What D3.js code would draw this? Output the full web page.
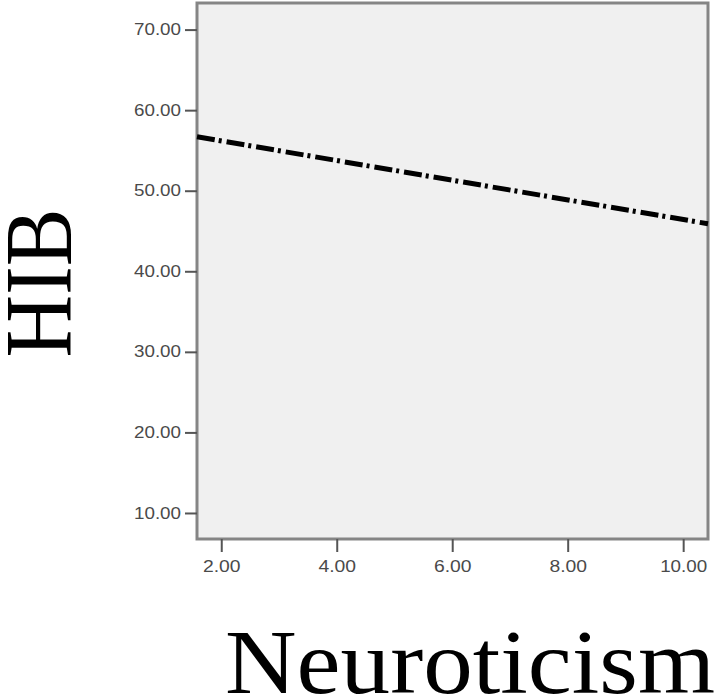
<!DOCTYPE html>
<html>
<head>
<meta charset="utf-8">
<script src="https://cdn.jsdelivr.net/npm/d3@7"></script>
<style>
  body { margin: 0; background: #fff; }
  svg { display: block; }
</style>
</head>
<body>
<svg></svg>
<script>
// values
const xTicks = [2, 4, 6, 8, 10]
const yTicks = [10, 20, 30, 40, 50, 60, 70]
const xDomain = [1.58, 10.43]
const yDomain = [6.77, 73.3]
// fitted line (Neuroticism -> HIB)
const lineX = [1.58, 10.43]
const lineY = [56.7, 45.9]

const xLabel = 'Neuroticism'
const yLabel = 'HIB'

class Chart {
	constructor(params = {}) {
		this.width = 718
		this.height = 700
		this.left = 197
		this.right = 708
		this.top = 3
		this.bottom = 539
		this.svg = d3.select('svg')
			.attr('width', this.width)
			.attr('height', this.height)
	}

	setupScale() {
		this.x = d3.scaleLinear().domain(xDomain).range([this.left, this.right])
		this.y = d3.scaleLinear().domain(yDomain).range([this.bottom, this.top])
	}

	drawFrame() {
		this.svg.append('rect')
			.attr('x', this.left)
			.attr('y', this.top)
			.attr('width', this.right - this.left)
			.attr('height', this.bottom - this.top)
			.attr('fill', '#f0f0f0')
			.attr('stroke', '#858585')
			.attr('stroke-width', 3)
	}

	drawAxes() {
		const fmt = d3.format('.2f')
		const yAxis = d3.axisLeft(this.y).tickValues(yTicks).tickFormat(fmt)
			.tickSize(12).tickPadding(4)
		const xAxis = d3.axisBottom(this.x).tickValues(xTicks).tickFormat(fmt)
			.tickSize(13).tickPadding(9)

		const gy = this.svg.append('g')
			.attr('transform', `translate(${this.left},0)`)
			.call(yAxis)
		const gx = this.svg.append('g')
			.attr('transform', `translate(0,${this.bottom})`)
			.call(xAxis)

		for (const g of [gx, gy]) {
			g.select('.domain').remove()
			g.selectAll('line').attr('stroke', '#555').attr('stroke-width', 2)
			g.selectAll('text')
				.attr('font-family', '"Liberation Sans", Arial, sans-serif')
				.attr('font-size', 16)
				.attr('fill', '#4a4a4a')
				.attr('textLength', d => fmt(d).length * 9.4)
				.attr('lengthAdjust', 'spacingAndGlyphs')
		}
	}

	drawLine() {
		const pts = lineX.map((v, i) => [v, lineY[i]])
		const line = d3.line().x(d => this.x(d[0])).y(d => this.y(d[1]))
		this.svg.append('path')
			.datum(pts)
			.attr('d', line)
			.attr('fill', 'none')
			.attr('stroke', '#000')
			.attr('stroke-width', 5)
			.attr('stroke-dasharray', '18,4,3,5')
	}

	drawLabels() {
		this.svg.append('text')
			.attr('x', 225)
			.attr('y', 693)
			.attr('font-family', '"Liberation Serif", "Times New Roman", serif')
			.attr('font-size', 91)
			.attr('textLength', 490)
			.attr('lengthAdjust', 'spacingAndGlyphs')
			.attr('fill', '#000')
			.text(xLabel)

		this.svg.append('text')
			.attr('transform', 'translate(71,283) rotate(-90)')
			.attr('text-anchor', 'middle')
			.attr('font-family', '"Liberation Serif", "Times New Roman", serif')
			.attr('font-size', 95)
			.attr('textLength', 149)
			.attr('lengthAdjust', 'spacingAndGlyphs')
			.attr('fill', '#000')
			.text(yLabel)
	}

	doTheStuff() {
		this.setupScale()
		this.drawFrame()
		this.drawLine()
		this.drawAxes()
		this.drawLabels()
	}
}

new Chart().doTheStuff()
</script>
</body>
</html>
